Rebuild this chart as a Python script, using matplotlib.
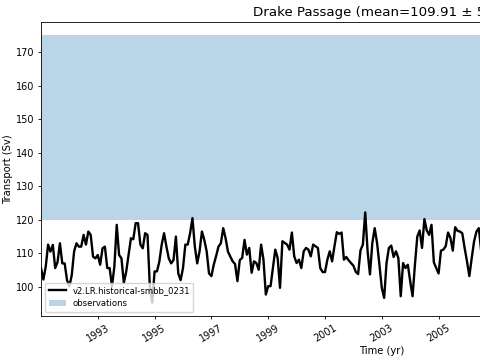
import numpy as np
import matplotlib
matplotlib.use("Agg")
import matplotlib.pyplot as plt

# Monthly Drake Passage transport (Sv), starting Jan 1991
transport = [
    105.6, 102.2, 106.0, 112.6, 110.5, 112.5, 105.6, 107.4, 113.0, 107.0, 107.0, 102.0,
    100.2, 103.5, 110.6, 113.0, 112.0, 112.0, 115.5, 112.6, 116.5, 115.5, 109.0, 108.5,
    109.5, 106.6, 111.5, 112.0, 105.6, 105.6, 100.2, 106.0, 118.5, 109.5, 108.5, 101.2,
    104.5, 109.5, 114.5, 114.2, 119.0, 119.0, 112.6, 111.5, 116.0, 115.5, 100.0, 95.3,
    104.6, 104.6, 107.5, 112.6, 116.0, 112.0, 108.5, 107.0, 108.0, 115.0, 104.0, 102.0,
    105.6, 112.6, 112.6, 116.0, 120.5, 112.0, 107.0, 110.6, 116.5, 114.0, 110.6, 104.0,
    103.2, 106.6, 109.2, 112.0, 113.0, 117.5, 114.5, 110.5, 109.0, 107.6, 106.8, 101.7,
    108.0, 108.6, 114.0, 109.6, 111.6, 104.2, 107.6, 107.1, 105.1, 112.6, 108.1, 97.7,
    100.2, 100.2, 105.6, 111.1, 108.6, 99.7, 113.6, 113.1, 112.6, 111.1, 116.2, 109.1,
    107.1, 108.1, 105.6, 110.6, 111.6, 111.1, 109.1, 112.6, 112.1, 111.6, 105.6, 104.4,
    104.4, 108.1, 110.6, 107.6, 112.1, 116.3, 115.8, 116.2, 108.1, 108.9, 107.9, 107.1,
    106.3, 104.5, 103.8, 110.9, 112.6, 122.2, 110.6, 103.7, 113.1, 117.5, 113.1, 106.6,
    99.7, 96.7, 107.1, 111.6, 112.3, 108.9, 110.6, 108.6, 97.2, 107.1, 105.6, 106.6,
    101.7, 97.2, 106.6, 115.0, 116.8, 111.6, 120.2, 116.8, 115.5, 118.5, 107.3, 105.6,
    104.0, 110.8, 111.1, 112.1, 116.2, 114.6, 110.8, 117.8, 116.7, 116.5, 116.0, 111.6,
    107.6, 103.2, 108.6, 113.6, 116.5, 117.5, 110.6, 112.0,
]
time = 1991 + np.arange(len(transport)) / 12.0

obs_low, obs_high = 120, 175
year_ticks = list(range(1993, 2015, 2))
run_name = "v2.LR.historical-smbb_0231"
title = "Drake Passage (mean=109.91 \u00b1 5.40)"

fig = plt.figure(figsize=(4.8, 3.6), dpi=100)
# axes extends past the right edge, as in the cropped reference
ax = fig.add_axes([0.0854, 0.1222, 1.42, 0.8167])

ax.plot(time, transport, color="black", linewidth=1.7, label=run_name)
ax.axhspan(obs_low, obs_high, color="C0", alpha=0.3, linewidth=0, label="observations")

ax.set_xlim(1991, 2015)
ax.set_ylim(91.3, 179.0)
ax.set_xticks(year_ticks)
ax.set_xticklabels([str(y) for y in year_ticks], rotation=30)
ax.tick_params(labelsize=7.0, length=2.5, width=0.6, pad=2.3)
for s in ax.spines.values():
    s.set_linewidth(0.6)

ax.set_xlabel("Time (yr)", fontsize=7.2, labelpad=2.0)
ax.set_ylabel("Transport (Sv)", fontsize=7.2, labelpad=2.0)
ax.set_title(title, fontsize=9.6, pad=4.3)
ax.legend(loc="lower left", fontsize=6.1, handlelength=2.0)

fig.savefig("out.png", dpi=100)
plt.close(fig)
